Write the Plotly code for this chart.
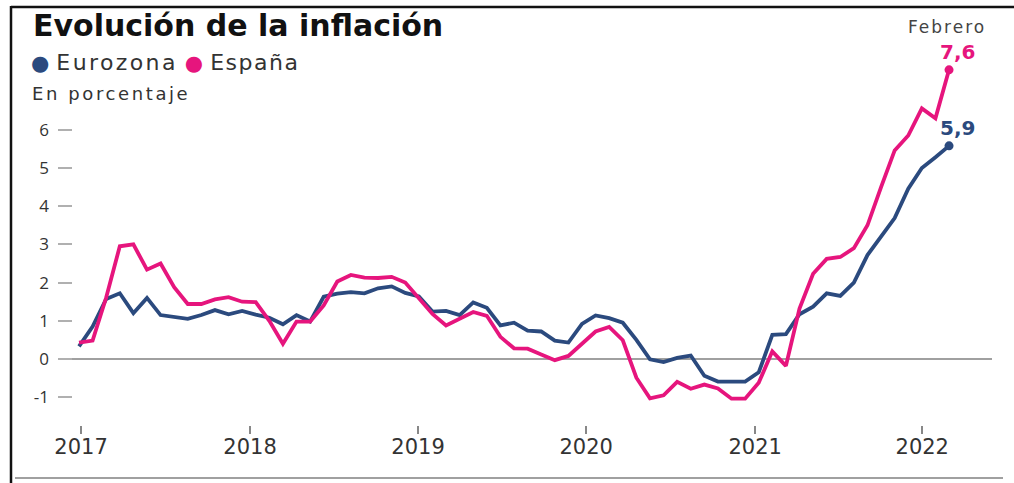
import plotly.graph_objects as go

# ---------------- data ----------------
# monthly observations, Oct 2016 .. Feb 2022 (index 0..64)
months = list(range(65))
eurozona = [0.33, 0.85, 1.57, 1.72, 1.20, 1.60, 1.15, 1.11, 1.05, 1.15,
            1.28, 1.17, 1.26, 1.16, 1.08, 0.91, 1.15, 0.98, 1.63, 1.71,
            1.75, 1.72, 1.85, 1.90, 1.73, 1.64, 1.24, 1.26, 1.15, 1.48,
            1.34, 0.88, 0.95, 0.74, 0.72, 0.48, 0.43, 0.92, 1.14, 1.07,
            0.95, 0.50, -0.01, -0.08, 0.03, 0.09, -0.44, -0.59, -0.59, -0.59,
            -0.35, 0.63, 0.65, 1.17, 1.37, 1.72, 1.65, 2.00, 2.72, 3.22,
            3.69, 4.46, 5.00, 5.28, 5.58]
espana = [0.43, 0.48, 1.61, 2.95, 3.00, 2.34, 2.50, 1.88, 1.44, 1.44,
          1.56, 1.62, 1.50, 1.49, 1.00, 0.40, 0.98, 0.98, 1.40, 2.03,
          2.20, 2.13, 2.12, 2.15, 2.00, 1.60, 1.18, 0.88, 1.06, 1.23,
          1.13, 0.58, 0.28, 0.27, 0.12, -0.03, 0.08, 0.40, 0.72, 0.84,
          0.49, -0.49, -1.03, -0.95, -0.60, -0.78, -0.67, -0.77, -1.04, -1.04,
          -0.62, 0.20, -0.18, 1.32, 2.23, 2.62, 2.67, 2.90, 3.50, 4.50,
          5.46, 5.85, 6.56, 6.30, 7.57]
year_labels = ["2017", "2018", "2019", "2020", "2021", "2022"]
year_tick_pos = [0.15, 12.58, 24.94, 37.31, 49.74, 62.03]
y_ticks = [-1, 0, 1, 2, 3, 4, 5, 6]
end_label_es = "7,6"
end_label_ez = "5,9"

BLUE = "#2b4a7e"
PINK = "#e6157d"
GREY = "#a0a0a0"
TXT = "#333333"
DV = "DejaVu Sans, Liberation Sans, Arial"

W, H = 1014, 483
L, R, T, B = 58, 22, 50, 58


def pxx(p):
    return (p - L) / (W - L - R)


def pxy(p):
    return (H - B - p) / (H - T - B)


def spaced(txt, sp):
    return f"<span style='letter-spacing:{sp}px'>{txt}</span>"


def dot(color):
    return f"<span style='color:{color};font-size:21px'>●</span>"


fig = go.Figure()
fig.add_trace(go.Scatter(x=months, y=eurozona, mode="lines", name="Eurozona",
                         line=dict(color=BLUE, width=3.8), showlegend=False))
fig.add_trace(go.Scatter(x=months, y=espana, mode="lines", name="España",
                         line=dict(color=PINK, width=3.8), showlegend=False))
fig.add_trace(go.Scatter(x=[months[-1]], y=[eurozona[-1]], mode="markers",
                         marker=dict(color=BLUE, size=9), showlegend=False))
fig.add_trace(go.Scatter(x=[months[-1]], y=[espana[-1]], mode="markers",
                         marker=dict(color=PINK, size=9), showlegend=False))

anns = [
    dict(text="<b>Evolución de la inflación</b>", x=pxx(31), y=pxy(25),
         xanchor="left", yanchor="middle",
         font=dict(size=30, color="#111", family=DV)),
    dict(text=dot(BLUE) + " " + spaced("Eurozona", 2.4) + " " +
              dot(PINK) + " " + spaced("España", 1.5),
         x=pxx(29), y=pxy(62), xanchor="left", yanchor="middle",
         font=dict(size=22, color=TXT, family=DV)),
    dict(text=spaced("En porcentaje", 2.6), x=pxx(30), y=pxy(93),
         xanchor="left", yanchor="middle",
         font=dict(size=18, color=TXT, family=DV)),
    dict(text=spaced("Febrero", 2), x=pxx(988), y=pxy(27), xanchor="right",
         yanchor="middle",
         font=dict(size=17, color="#444", family=DV)),
    dict(text=f"<b>{end_label_es}</b>", x=pxx(957), y=pxy(52),
         xanchor="center", yanchor="middle",
         font=dict(size=20, color=PINK, family=DV)),
    dict(text=f"<b>{end_label_ez}</b>", x=pxx(957), y=pxy(128),
         xanchor="center", yanchor="middle",
         font=dict(size=20, color=BLUE, family=DV)),
]
for a in anns:
    a.update(xref="paper", yref="paper", showarrow=False)

shapes = [
    # frame
    dict(type="line", x0=pxx(11), x1=pxx(1014), y0=pxy(7), y1=pxy(7),
         line=dict(color="#111", width=2.5)),
    dict(type="line", x0=pxx(11), x1=pxx(11), y0=pxy(6), y1=pxy(483),
         line=dict(color="#111", width=2.5)),
    # bottom rule
    dict(type="line", x0=pxx(15), x1=pxx(1003), y0=pxy(478), y1=pxy(478),
         line=dict(color=GREY, width=2)),
]
for s in shapes:
    s.update(xref="paper", yref="paper", layer="above")

fig.update_layout(
    width=W, height=H,
    margin=dict(l=L, r=R, t=T, b=B, pad=0),
    paper_bgcolor="white", plot_bgcolor="white",
    annotations=anns, shapes=shapes,
    xaxis=dict(range=[-1.545, 67.16], tickmode="array",
               tickvals=year_tick_pos, ticktext=year_labels,
               ticks="outside", ticklen=8, tickwidth=2, tickcolor="#888",
               showgrid=False, zeroline=False, showline=False,
               ticklabelstandoff=-5,
               tickfont=dict(size=21, color=TXT, family=DV)),
    yaxis=dict(range=[-1.728, 8.089], tickmode="array", tickvals=y_ticks,
               ticktext=[str(v) for v in y_ticks],
               ticks="inside", ticklen=14, tickwidth=2, tickcolor="#b0b0b0",
               showgrid=False, showline=False,
               zeroline=True, zerolinecolor=GREY, zerolinewidth=2,
               ticklabelstandoff=8,
               tickfont=dict(size=17, color=TXT,
                             family="Open Sans, Liberation Sans")),
)

fig.write_html("out.html")
